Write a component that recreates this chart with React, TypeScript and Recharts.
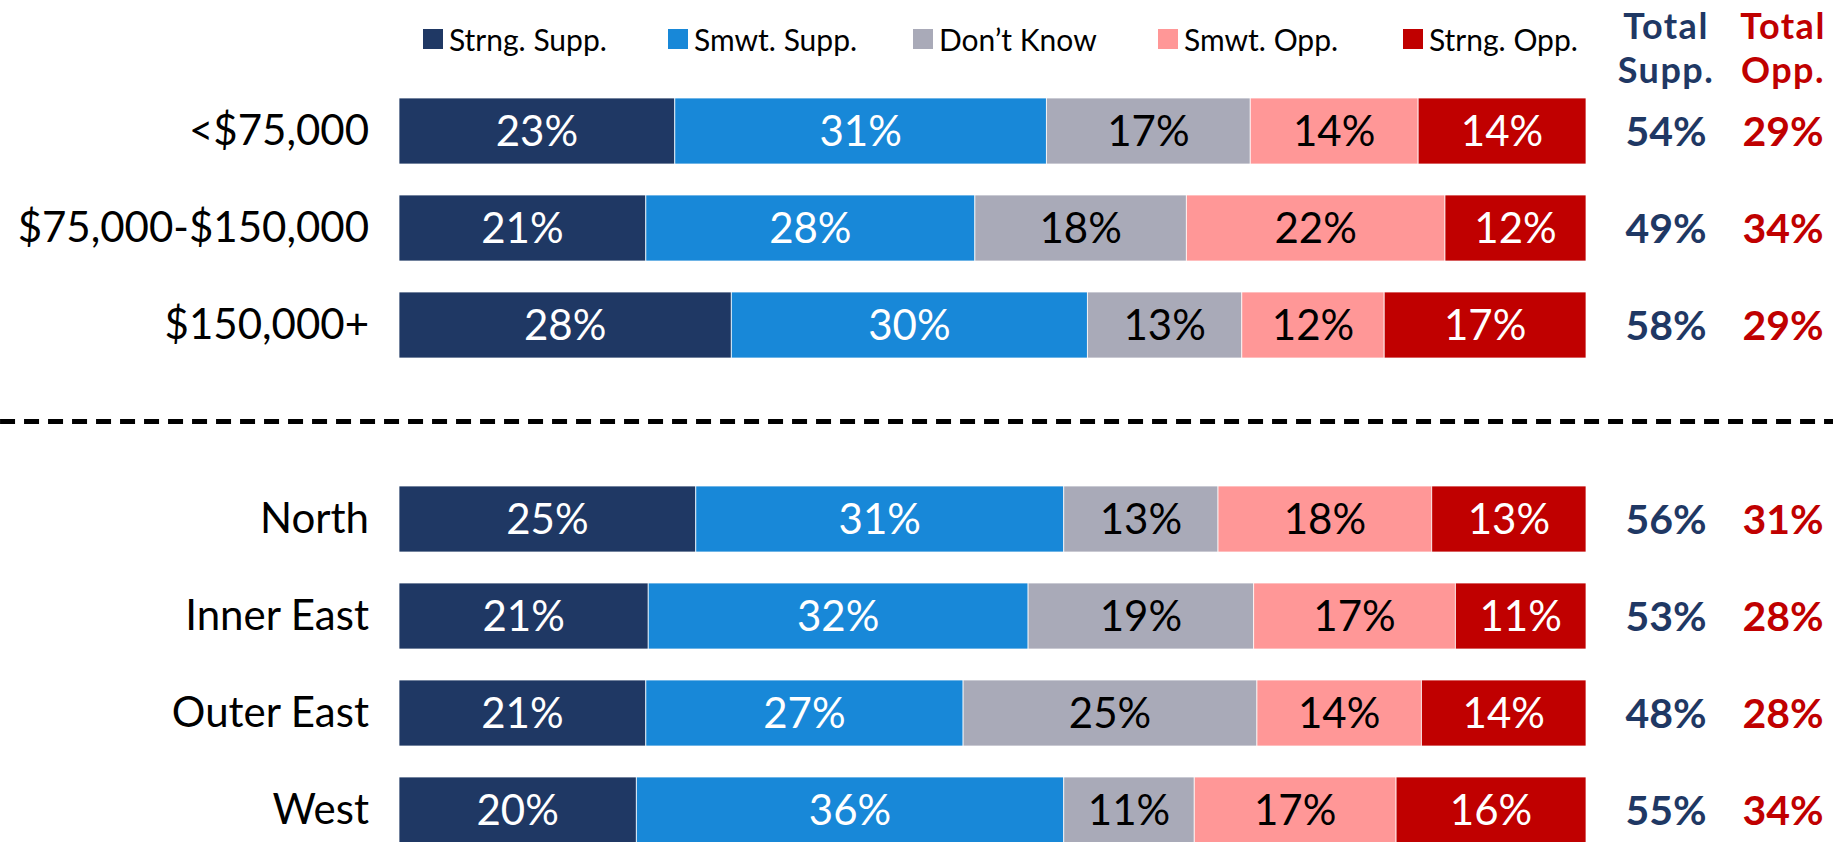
import { BarChart, Bar, XAxis, YAxis, LabelList, ReferenceLine } from 'recharts';

// categories (the blank one is the spacer row that holds the dashed divider)
const categories = ['<$75,000', '$75,000-$150,000', '$150,000+', ' ', 'North', 'Inner East', 'Outer East', 'West'];
const strngSupp = [23, 21, 28, null, 25, 21, 21, 20];
const smwtSupp = [31, 28, 30, null, 31, 32, 27, 36];
const dontKnow = [17, 18, 13, null, 13, 19, 25, 11];
const smwtOpp = [14, 22, 12, null, 18, 17, 14, 17];
const strngOpp = [14, 12, 17, null, 13, 11, 14, 16];
const totalSupp = [54, 49, 58, null, 56, 53, 48, 55];
const totalOpp = [29, 34, 29, null, 31, 28, 28, 34];

const seriesNames = ['Strng. Supp.', 'Smwt. Supp.', 'Don’t Know', 'Smwt. Opp.', 'Strng. Opp.'];
const seriesKeys = ['strngSupp', 'smwtSupp', 'dontKnow', 'smwtOpp', 'strngOpp'];
const seriesColors = ['#1F3864', '#1888D8', '#A9AAB8', '#FF9797', '#C00000'];
const labelColors = ['#ffffff', '#ffffff', '#000000', '#000000', '#ffffff'];

const data = categories.map((name, i) => ({
  name,
  strngSupp: strngSupp[i],
  smwtSupp: smwtSupp[i],
  dontKnow: dontKnow[i],
  smwtOpp: smwtOpp[i],
  strngOpp: strngOpp[i],
  totalSupp: totalSupp[i],
  totalOpp: totalOpp[i],
}));

const FONT = 'Lato, "Open Sans", sans-serif';
const SUPP_COLOR = '#1F3864';
const OPP_COLOR = '#C00000';

const segmentLabel = (color: string) => (props: any) => {
  const { x, y, width, height, value } = props;
  if (value == null) return null;
  return (
    <text
      x={x + width / 2}
      y={y + height / 2}
      dy="0.36em"
      textAnchor="middle"
      fill={color}
      fontSize={42}
      fontFamily={FONT}
    >
      {value}%
    </text>
  );
};

const totalLabel = (color: string, offset: number) => (props: any) => {
  const { x, y, width, height, value } = props;
  if (value == null) return null;
  return (
    <text
      x={x + width + offset}
      y={y + height / 2}
      dy="0.36em"
      textAnchor="middle"
      fill={color}
      fontSize={41}
      fontWeight={700}
      fontFamily={FONT}
    >
      {value}%
    </text>
  );
};

const headerLine = (center: number, top: number, color: string): React.CSSProperties => ({
  position: 'absolute',
  top,
  left: center - 80,
  width: 160,
  textAlign: 'center',
  fontSize: 36,
  fontWeight: 700,
  letterSpacing: 1.5,
  lineHeight: '44px',
  color,
});

export default function App() {
  return (
    <div
      style={{
        position: 'absolute',
        top: 0,
        left: 0,
        width: 1833,
        height: 842,
        overflow: 'hidden',
        background: '#fff',
        fontFamily: FONT,
      }}
    >
      {/* legend */}
      <div style={{ position: 'absolute', top: 22, left: 423, display: 'flex' }}>
        {seriesNames.map((n, i) => (
          <div key={n} style={{ width: 245, display: 'flex', alignItems: 'center' }}>
            <span style={{ width: 20, height: 20, background: seriesColors[i], marginRight: 6 }} />
            <span style={{ fontSize: 30, color: '#000', lineHeight: '34px' }}>{n}</span>
          </div>
        ))}
      </div>

      {/* total headers */}
      <div style={headerLine(1666, 3, SUPP_COLOR)}>Total</div>
      <div style={headerLine(1666, 47, SUPP_COLOR)}>Supp.</div>
      <div style={headerLine(1783, 3, OPP_COLOR)}>Total</div>
      <div style={headerLine(1783, 47, OPP_COLOR)}>Opp.</div>

      <div style={{ position: 'absolute', top: 0, left: 0 }}>
        <BarChart
          width={1833}
          height={858}
          data={data}
          layout="vertical"
          stackOffset="expand"
          barSize={66}
          margin={{ top: 82, right: 247, bottom: 0, left: 0 }}
        >
          <XAxis type="number" hide domain={[0, 1]} />
          <YAxis
            type="category"
            dataKey="name"
            width={399}
            axisLine={false}
            tickLine={false}
            tickSize={0}
            tickMargin={30}
            interval={0}
            tick={{ fontSize: 42, fill: '#000', fontFamily: FONT }}
          />
          {seriesKeys.map((k, i) => (
            <Bar
              key={k}
              dataKey={k}
              name={seriesNames[i]}
              stackId="a"
              fill={seriesColors[i]}
              stroke="#ffffff"
              strokeWidth={0.75}
              isAnimationActive={false}
            >
              <LabelList dataKey={k} content={segmentLabel(labelColors[i])} />
              {i === seriesKeys.length - 1 && (
                <LabelList dataKey="totalSupp" content={totalLabel(SUPP_COLOR, 80)} />
              )}
              {i === seriesKeys.length - 1 && (
                <LabelList dataKey="totalOpp" content={totalLabel(OPP_COLOR, 197)} />
              )}
            </Bar>
          ))}
          <ReferenceLine
            segment={[{ x: -0.3361, y: ' ' }, { x: 1.2081, y: ' ' }]}
            ifOverflow="visible"
            stroke="#000"
            strokeWidth={5}
            strokeDasharray="15 9"
          />
        </BarChart>
      </div>
    </div>
  );
}
